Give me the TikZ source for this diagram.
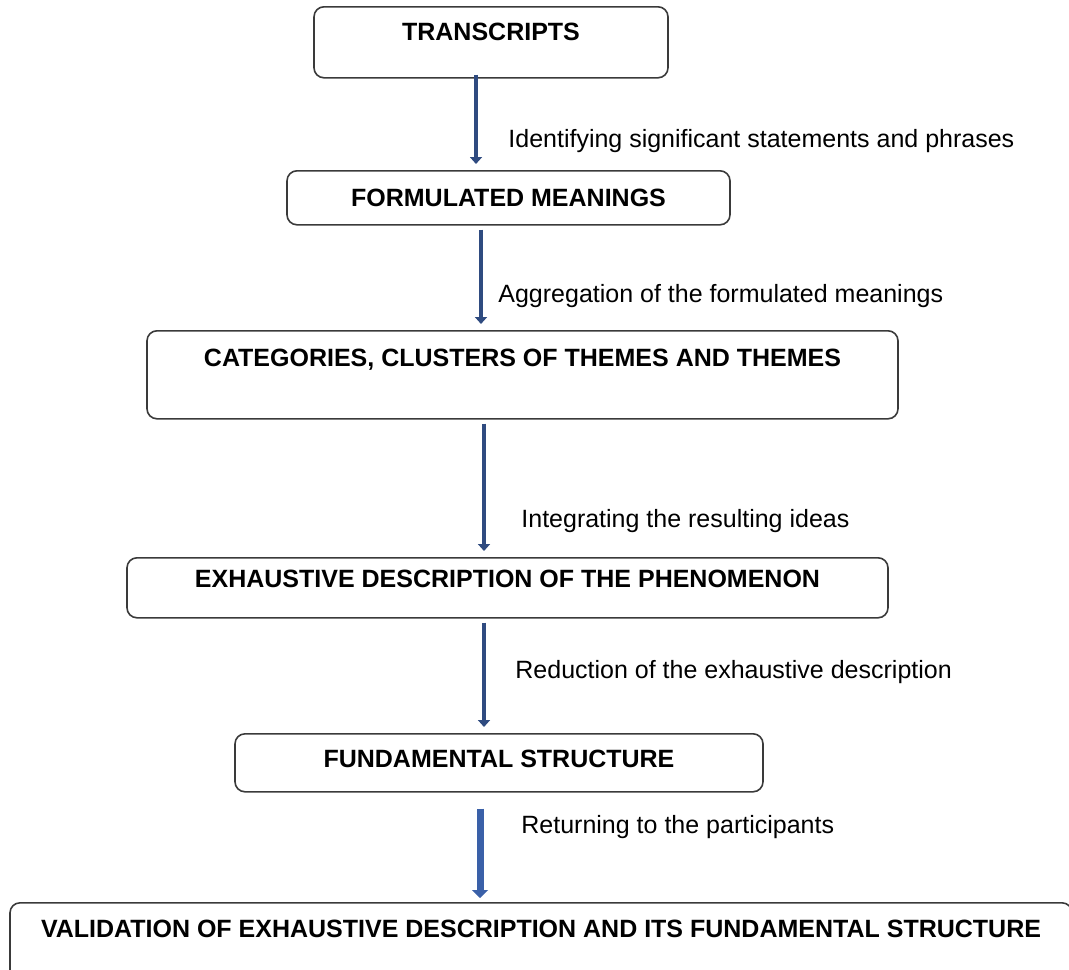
\documentclass[tikz,border=0pt]{standalone}
\usepackage{fontspec}
\setmainfont{Liberation Sans}
\usetikzlibrary{arrows.meta}
\definecolor{arrowblue}{HTML}{2F4B80}
\definecolor{lastblue}{HTML}{3A60A8}
\definecolor{boxline}{HTML}{3A3A3A}
\begin{document}
\begin{tikzpicture}[x=0.5pt, y=-0.5pt,
  box/.style={draw=boxline, line width=0.8pt, rounded corners=5pt, anchor=north,
    inner xsep=0pt, inner ysep=0pt, font=\fontsize{12.5}{14}\selectfont\bfseries},
  flow/.style={draw=arrowblue, line width=2pt, -{Triangle[width=6pt, length=3.5pt]},
    shorten >=3pt, shorten <=2pt},
  lbl/.style={anchor=base west, inner sep=0pt, font=\fontsize{12.5}{15}\selectfont}
]
\useasboundingbox (0,0) rectangle (1069,969);

\node[box, minimum width=177pt, text height=16.75pt, text depth=18.75pt] (tr) at (491,6) {TRANSCRIPTS};
\node[box, minimum width=221.5pt, text height=17.75pt, text depth=9.25pt] (fm) at (508.5,170) {FORMULATED MEANINGS};
\node[box, minimum width=375.5pt, text height=17.75pt, text depth=26.25pt] (cat) at (522.5,330) {CATEGORIES, CLUSTERS OF THEMES AND THEMES};
\node[box, minimum width=380.5pt, text height=14.75pt, text depth=15.25pt] (exh) at (507.5,557) {EXHAUSTIVE DESCRIPTION OF THE PHENOMENON};
\node[box, minimum width=264pt, text height=16.75pt, text depth=12.25pt] (fund) at (499,733) {FUNDAMENTAL STRUCTURE};
\node[box, minimum width=531pt, text height=17.25pt, text depth=30pt] (val) at (541,902) {VALIDATION OF EXHAUSTIVE DESCRIPTION AND ITS FUNDAMENTAL STRUCTURE};

% arrows between the steps
\draw[flow, shorten <=-2pt] (tr.south -| 476,0) -- (fm.north -| 476,0);
\draw[flow] (fm.south -| 481,0) -- (cat.north -| 481,0);
\draw[flow] (cat.south -| 484,0) -- (exh.north -| 484,0);
\draw[flow] (exh.south -| 484,0) -- (fund.north -| 484,0);
\draw[flow, draw=lastblue, line width=3.5pt, -{Triangle[width=8pt, length=4pt]}, shorten <=8pt, shorten >=2pt] (fund.south -| 480,0) -- (val.north -| 480,0);

\node[lbl] (l1) at (508,147) {Identifying significant statements and phrases};
\node[lbl] (l2) at (498,302) {Aggregation of the formulated meanings};
\node[lbl] (l3) at (521,527) {Integrating the resulting ideas};
\node[lbl] (l4) at (515,678) {Reduction of the exhaustive description};
\node[lbl] (l5) at (521,833) {Returning to the participants};
\end{tikzpicture}
\end{document}
